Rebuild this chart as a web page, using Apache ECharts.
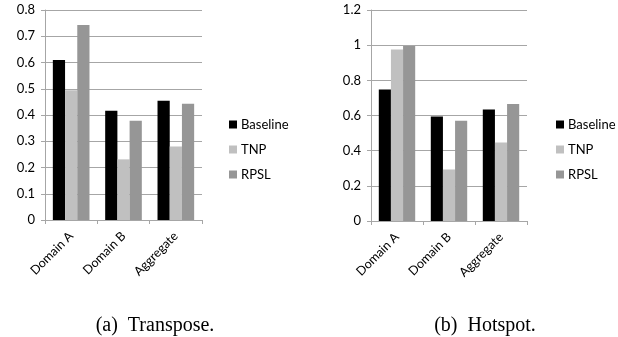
<!DOCTYPE html>
<html>
<head>
<meta charset="utf-8">
<script src="https://cdn.jsdelivr.net/npm/echarts@6/dist/echarts.min.js"></script>
<style>
  html, body { margin: 0; padding: 0; background: #fff; }
  #chart { width: 618px; height: 337px; }
</style>
</head>
<body>
<div id="chart"></div>
<script>
// categories and series
const categories = ['Domain A', 'Domain B', 'Aggregate'];
const seriesNames = ['Baseline', 'TNP', 'RPSL'];
const seriesColors = ['#000000', '#c0c0c0', '#969696'];

// (a) Transpose
const transposeBaseline = [0.61, 0.416, 0.454];
const transposeTNP = [0.494, 0.231, 0.28];
const transposeRPSL = [0.743, 0.378, 0.443];

// (b) Hotspot
const hotspotBaseline = [0.748, 0.594, 0.634];
const hotspotTNP = [0.976, 0.293, 0.446];
const hotspotRPSL = [0.995, 0.57, 0.666];

const captions = ['(a)  Transpose.', '(b)  Hotspot.'];

const gridColor = '#a6a6a6';
const labelFont = 'Lato';

let chart = echarts.init(document.getElementById('chart'));

function xAxisFor(gridIndex) {
  return {
    type: 'category',
    gridIndex: gridIndex,
    data: categories,
    axisLine: { lineStyle: { color: gridColor } },
    axisTick: { show: true, length: 4, lineStyle: { color: gridColor } },
    axisLabel: {
      rotate: 45,
      margin: 14,
      color: '#000',
      fontFamily: labelFont,
      fontSize: 12.5
    }
  };
}

function yAxisFor(gridIndex, max, interval) {
  return {
    type: 'value',
    gridIndex: gridIndex,
    min: 0,
    max: max,
    interval: interval,
    axisLine: { show: true, lineStyle: { color: gridColor } },
    axisTick: { show: true, length: 4, lineStyle: { color: gridColor } },
    axisLabel: {
      margin: 10,
      color: '#000',
      fontFamily: labelFont,
      fontSize: 13
    },
    splitLine: { lineStyle: { color: gridColor, width: 1 } }
  };
}

function barsFor(idx, lists) {
  return lists.map(function (vals, i) {
    return {
      name: seriesNames[i],
      type: 'bar',
      xAxisIndex: idx,
      yAxisIndex: idx,
      barGap: '0%',
      barCategoryGap: '30%',
      itemStyle: { color: seriesColors[i] },
      data: vals
    };
  });
}

function legendFor(left) {
  return {
    orient: 'vertical',
    left: left,
    top: 113,
    itemWidth: 8,
    itemHeight: 8,
    itemGap: 12,
    icon: 'rect',
    data: seriesNames,
    textStyle: { color: '#000', fontFamily: labelFont, fontSize: 13, padding: [0, 0, 0, -1] }
  };
}

let option = {
  animation: false,
  title: [
    {
      text: captions[0],
      left: 150,
      top: 311,
      textAlign: 'center',
      textStyle: { fontFamily: 'Liberation Serif', fontWeight: 'normal', fontSize: 20, color: '#000' }
    },
    {
      text: captions[1],
      left: 480,
      top: 311,
      textAlign: 'center',
      textStyle: { fontFamily: 'Liberation Serif', fontWeight: 'normal', fontSize: 20, color: '#000' }
    }
  ],
  grid: [
    { left: 45, top: 10, width: 157, height: 210 },
    { left: 371, top: 10, width: 156, height: 211 }
  ],
  legend: [legendFor(224), legendFor(551)],
  xAxis: [xAxisFor(0), xAxisFor(1)],
  yAxis: [yAxisFor(0, 0.8, 0.1), yAxisFor(1, 1.2, 0.2)],
  series: barsFor(0, [transposeBaseline, transposeTNP, transposeRPSL])
    .concat(barsFor(1, [hotspotBaseline, hotspotTNP, hotspotRPSL]))
};

chart.setOption(option);
</script>
</body>
</html>
